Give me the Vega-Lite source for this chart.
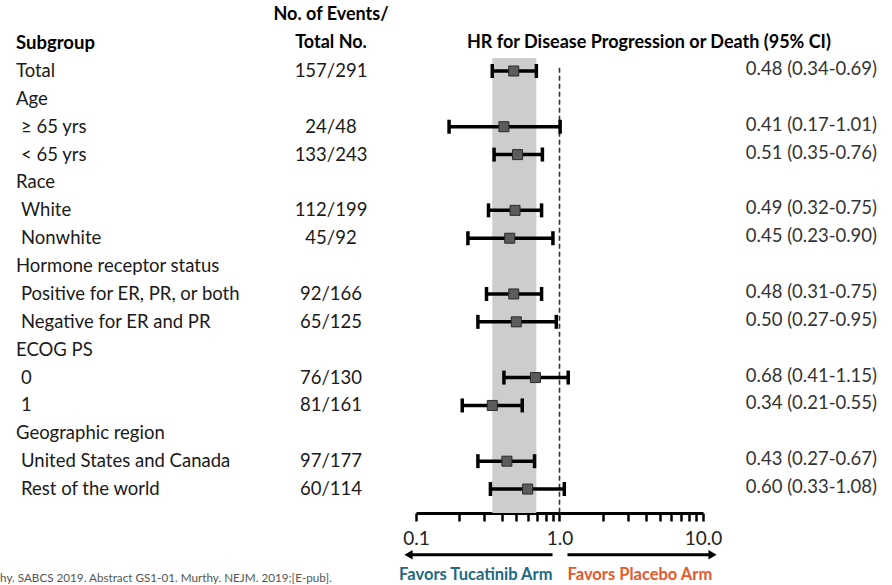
{
  "$schema": "https://vega.github.io/schema/vega-lite/v6.json",
  "padding": 0,
  "background": "white",
  "spacing": 0,
  "bounds": "flush",
  "config": {
    "view": {"stroke": null},
    "font": "Lato",
    "concat": {"spacing": 0}
  },
  "datasets": {
    "subgroups": [
      {"row": 0, "level": "group", "label": "Total", "events": "157/291", "hr": 0.48, "lo": 0.34, "hi": 0.69},
      {"row": 1, "level": "group", "label": "Age"},
      {"row": 2, "level": "item", "label": "≥ 65 yrs", "events": "24/48", "hr": 0.41, "lo": 0.17, "hi": 1.01},
      {"row": 3, "level": "item", "label": "< 65 yrs", "events": "133/243", "hr": 0.51, "lo": 0.35, "hi": 0.76},
      {"row": 4, "level": "group", "label": "Race"},
      {"row": 5, "level": "item", "label": "White", "events": "112/199", "hr": 0.49, "lo": 0.32, "hi": 0.75},
      {"row": 6, "level": "item", "label": "Nonwhite", "events": "45/92", "hr": 0.45, "lo": 0.23, "hi": 0.90},
      {"row": 7, "level": "group", "label": "Hormone receptor status"},
      {"row": 8, "level": "item", "label": "Positive for ER, PR, or both", "events": "92/166", "hr": 0.48, "lo": 0.31, "hi": 0.75},
      {"row": 9, "level": "item", "label": "Negative for ER and PR", "events": "65/125", "hr": 0.50, "lo": 0.27, "hi": 0.95},
      {"row": 10, "level": "group", "label": "ECOG PS"},
      {"row": 11, "level": "item", "label": "0", "events": "76/130", "hr": 0.68, "lo": 0.41, "hi": 1.15},
      {"row": 12, "level": "item", "label": "1", "events": "81/161", "hr": 0.34, "lo": 0.21, "hi": 0.55},
      {"row": 13, "level": "group", "label": "Geographic region"},
      {"row": 14, "level": "item", "label": "United States and Canada", "events": "97/177", "hr": 0.43, "lo": 0.27, "hi": 0.67},
      {"row": 15, "level": "item", "label": "Rest of the world", "events": "60/114", "hr": 0.60, "lo": 0.33, "hi": 1.08}
    ],
    "headers": [
      {"col": "subgroup", "row": -1, "text": "Subgroup"},
      {"col": "events", "row": -2, "text": "No. of Events/"},
      {"col": "events", "row": -1, "text": "Total No."},
      {"col": "hr", "row": -1, "text": "HR for Disease Progression or Death (95% CI)"}
    ],
    "arrows": [
      {"side": "Tucatinib", "row": 17.36, "from": 0.894, "tip": 0.0887, "label": "Favors Tucatinib Arm"},
      {"side": "Placebo", "row": 17.36, "from": 1.137, "tip": 11.65, "label": "Favors Placebo Arm"}
    ],
    "notes": [
      {"row": 18.2, "text": "hy. SABCS 2019. Abstract GS1-01. Murthy. NEJM. 2019;[E-pub]."}
    ]
  },
  "hconcat": [
    {
      "width": 246,
      "height": 585,
      "layer": [
        {
          "data": {"name": "subgroups"},
          "transform": [{"filter": "datum.level === 'group'"}],
          "mark": {"type": "text", "align": "left", "baseline": "middle", "fontSize": 18.5, "color": "#1a1a1a"},
          "encoding": {
            "x": {"value": 16},
            "y": {"field": "row", "type": "quantitative", "scale": {"domain": [-2.548, 18.443], "reverse": true, "nice": false, "zero": false}, "axis": null},
            "text": {"field": "label"}
          }
        },
        {
          "data": {"name": "subgroups"},
          "transform": [{"filter": "datum.level === 'item'"}],
          "mark": {"type": "text", "align": "left", "baseline": "middle", "fontSize": 18.5, "color": "#1a1a1a"},
          "encoding": {
            "x": {"value": 21},
            "y": {"field": "row", "type": "quantitative", "scale": {"domain": [-2.548, 18.443], "reverse": true, "nice": false, "zero": false}, "axis": null},
            "text": {"field": "label"}
          }
        },
        {
          "data": {"name": "headers"},
          "transform": [{"filter": "datum.col === 'subgroup'"}],
          "mark": {"type": "text", "align": "left", "baseline": "middle", "fontSize": 18.5, "fontWeight": "bold", "color": "#000000"},
          "encoding": {
            "x": {"value": 16},
            "y": {"field": "row", "type": "quantitative", "scale": {"domain": [-2.548, 18.443], "reverse": true, "nice": false, "zero": false}, "axis": null},
            "text": {"field": "text"}
          }
        },
        {
          "data": {"name": "notes"},
          "mark": {"type": "text", "align": "left", "baseline": "middle", "fontSize": 11.7, "color": "#555555"},
          "encoding": {
            "x": {"value": 0},
            "y": {"field": "row", "type": "quantitative", "scale": {"domain": [-2.548, 18.443], "reverse": true, "nice": false, "zero": false}, "axis": null},
            "text": {"field": "text"}
          }
        }
      ]
    },
    {
      "width": 170,
      "height": 585,
      "layer": [
        {
          "data": {"name": "subgroups"},
          "transform": [{"filter": "isValid(datum.events)"}],
          "mark": {"type": "text", "align": "center", "baseline": "middle", "fontSize": 18.5, "color": "#1a1a1a"},
          "encoding": {
            "x": {"value": 85},
            "y": {"field": "row", "type": "quantitative", "scale": {"domain": [-2.548, 18.443], "reverse": true, "nice": false, "zero": false}, "axis": null},
            "text": {"field": "events"}
          }
        },
        {
          "data": {"name": "headers"},
          "transform": [{"filter": "datum.col === 'events'"}],
          "mark": {"type": "text", "align": "center", "baseline": "middle", "fontSize": 18, "fontWeight": "bold", "color": "#000000"},
          "encoding": {
            "x": {"value": 85},
            "y": {"field": "row", "type": "quantitative", "scale": {"domain": [-2.548, 18.443], "reverse": true, "nice": false, "zero": false}, "axis": null},
            "text": {"field": "text"}
          }
        }
      ]
    },
    {
      "width": 287,
      "height": 585,
      "layer": [
        {
          "data": {"name": "subgroups"},
          "transform": [{"filter": "datum.row === 0"}],
          "mark": {"type": "rect", "color": "#cdcdcd"},
          "encoding": {
            "x": {
              "field": "lo", "type": "quantitative",
              "scale": {"type": "log", "domain": [0.1, 10], "nice": false},
              "axis": {
                "title": null,
                "values": [0.1, 0.2, 0.3, 0.4, 0.5, 0.6, 0.7, 0.8, 0.9, 1, 2, 3, 4, 5, 6, 7, 8, 9, 10],
                "labelExpr": "datum.value == 0.1 ? '0.1' : datum.value == 1 ? '1.0' : datum.value == 10 ? '10.0' : ''",
                "offset": -72,
                "grid": false,
                "domainColor": "#000000",
                "domainWidth": 3,
                "tickColor": "#000000",
                "tickWidth": 2.5,
                "tickSize": 8,
                "labelFontSize": 19,
                "labelColor": "#222222",
                "labelPadding": 8,
                "labelFlush": false,
                "labelOverlap": false
              }
            },
            "x2": {"field": "hi"},
            "y": {"datum": -0.47, "type": "quantitative", "scale": {"domain": [-2.548, 18.443], "reverse": true, "nice": false, "zero": false}, "axis": null},
            "y2": {"datum": 15.86}
          }
        },
        {
          "data": {"name": "subgroups"},
          "transform": [{"filter": "datum.row === 0"}],
          "mark": {"type": "rule", "color": "#333333", "strokeWidth": 1.6, "strokeDash": [5, 3]},
          "encoding": {
            "x": {"datum": 1, "type": "quantitative"},
            "y": {"datum": -0.12, "type": "quantitative"},
            "y2": {"datum": 15.86}
          }
        },
        {
          "data": {"name": "subgroups"},
          "transform": [{"filter": "isValid(datum.hr)"}],
          "mark": {"type": "rule", "color": "#000000", "strokeWidth": 3.5},
          "encoding": {
            "x": {"field": "lo", "type": "quantitative"},
            "x2": {"field": "hi"},
            "y": {"field": "row", "type": "quantitative"}
          }
        },
        {
          "data": {"name": "subgroups"},
          "transform": [{"filter": "isValid(datum.hr)"}],
          "mark": {"type": "tick", "orient": "vertical", "color": "#000000", "size": 14, "thickness": 3.5, "opacity": 1},
          "encoding": {
            "x": {"field": "lo", "type": "quantitative"},
            "y": {"field": "row", "type": "quantitative"}
          }
        },
        {
          "data": {"name": "subgroups"},
          "transform": [{"filter": "isValid(datum.hr)"}],
          "mark": {"type": "tick", "orient": "vertical", "color": "#000000", "size": 14, "thickness": 3.5, "opacity": 1},
          "encoding": {
            "x": {"field": "hi", "type": "quantitative"},
            "y": {"field": "row", "type": "quantitative"}
          }
        },
        {
          "data": {"name": "subgroups"},
          "transform": [{"filter": "isValid(datum.hr)"}],
          "mark": {"type": "point", "shape": "square", "filled": true, "size": 100, "fill": "#5c5c5c", "stroke": "#2a2a2a", "strokeWidth": 1, "opacity": 1},
          "encoding": {
            "x": {"field": "hr", "type": "quantitative"},
            "y": {"field": "row", "type": "quantitative"}
          }
        },
        {
          "data": {"name": "headers"},
          "transform": [{"filter": "datum.col === 'hr'"}],
          "mark": {"type": "text", "align": "left", "baseline": "middle", "fontSize": 18, "fontWeight": "bold", "color": "#000000"},
          "encoding": {
            "x": {"value": 51},
            "y": {"field": "row", "type": "quantitative"},
            "text": {"field": "text"}
          }
        },
        {
          "data": {"name": "arrows"},
          "mark": {"type": "rule", "color": "#000000", "strokeWidth": 3},
          "encoding": {
            "x": {"field": "from", "type": "quantitative"},
            "x2": {"field": "tip"},
            "y": {"field": "row", "type": "quantitative"}
          }
        },
        {
          "data": {"name": "arrows"},
          "mark": {"type": "point", "filled": true, "size": 90, "color": "#000000", "opacity": 1},
          "encoding": {
            "x": {"field": "tip", "type": "quantitative"},
            "y": {"field": "row", "type": "quantitative"},
            "shape": {"field": "side", "type": "nominal", "scale": {"domain": ["Tucatinib", "Placebo"], "range": ["triangle-left", "triangle-right"]}, "legend": null}
          }
        },
        {
          "data": {"name": "arrows"},
          "transform": [{"filter": "datum.side === 'Tucatinib'"}],
          "mark": {"type": "text", "align": "right", "baseline": "middle", "fontSize": 16.5, "fontWeight": "bold", "color": "#1d6a82", "dy": 20},
          "encoding": {
            "x": {"field": "from", "type": "quantitative"},
            "y": {"field": "row", "type": "quantitative"},
            "text": {"field": "label"}
          }
        },
        {
          "data": {"name": "arrows"},
          "transform": [{"filter": "datum.side === 'Placebo'"}],
          "mark": {"type": "text", "align": "left", "baseline": "middle", "fontSize": 16.5, "fontWeight": "bold", "color": "#e9582b", "dy": 20},
          "encoding": {
            "x": {"field": "from", "type": "quantitative"},
            "y": {"field": "row", "type": "quantitative"},
            "text": {"field": "label"}
          }
        }
      ]
    },
    {
      "width": 174,
      "height": 585,
      "data": {"name": "subgroups"},
      "transform": [
        {"filter": "isValid(datum.hr)"},
        {"calculate": "format(datum.hr, '.2f') + ' (' + format(datum.lo, '.2f') + '-' + format(datum.hi, '.2f') + ')'", "as": "hrLabel"}
      ],
      "mark": {"type": "text", "align": "right", "baseline": "middle", "fontSize": 18.5, "color": "#333333", "dy": -2},
      "encoding": {
        "x": {"value": "width"},
        "y": {"field": "row", "type": "quantitative", "scale": {"domain": [-2.548, 18.443], "reverse": true, "nice": false, "zero": false}, "axis": null},
        "text": {"field": "hrLabel"}
      }
    }
  ]
}
